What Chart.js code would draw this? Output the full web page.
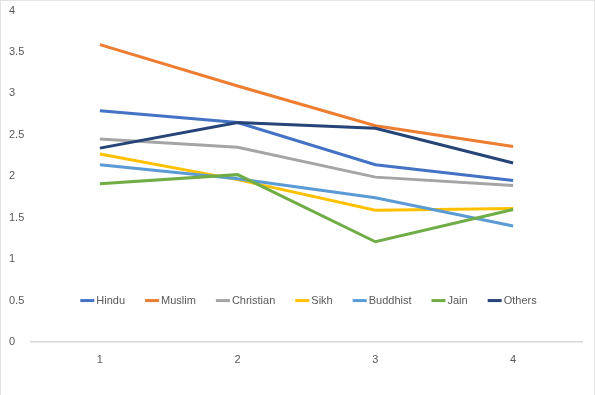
<!DOCTYPE html>
<html lang="en">
<head>
  <meta charset="UTF-8" />
  <script src="https://cdn.jsdelivr.net/npm/chart.js@4.4.0/dist/chart.umd.min.js"></script>
  <style>
    body { margin: 0; background: #fff; }
    #wrap {
      width: 595px; height: 395px; box-sizing: border-box;
      border: 1px solid #e3e3e3; border-bottom: none;
    }
  </style>
</head>
<body>
  <div id="wrap">
    <canvas id="chart" width="593" height="394"></canvas>
  </div>

  <script>
    // chart data
    let categories = ['1', '2', '3', '4'];
    let seriesNames = ['Hindu', 'Muslim', 'Christian', 'Sikh', 'Buddhist', 'Jain', 'Others'];
    let hindu = [2.79, 2.65, 2.14, 1.95];
    let muslim = [3.59, 3.09, 2.61, 2.36];
    let christian = [2.45, 2.35, 1.99, 1.89];
    let sikh = [2.27, 1.96, 1.59, 1.61];
    let buddhist = [2.14, 1.97, 1.74, 1.40];
    let jain = [1.91, 2.02, 1.21, 1.60];
    let others = [2.34, 2.65, 2.58, 2.16];
    let colors = ['#4472C4', '#ED7D31', '#A5A5A5', '#FFC000', '#5B9BD5', '#70AD47', '#264478'];

    let allValues = [hindu, muslim, christian, sikh, buddhist, jain, others];
    let textColor = '#595959';
    let font = { family: 'Liberation Sans', size: 11 };

    let datasets = [];
    for (let i = 0; i < seriesNames.length; i++) {
      datasets.push({
        label: seriesNames[i],
        data: allValues[i],
        borderColor: colors[i],
        backgroundColor: colors[i],
        borderWidth: 3,
        pointRadius: 0,
        tension: 0,
        order: seriesNames.length - i   // last series on top, like Excel
      });
    }

    // legend drawn inside the plot area, at the 0.5 level
    const insideLegend = {
      id: 'insideLegend',
      afterDatasetsDraw(chart) {
        const ctx = chart.ctx;
        const area = chart.chartArea;
        const y = chart.scales.y.getPixelForValue(0.5);
        const lineLen = 14, gap = 2, spacing = 20;
        ctx.save();
        ctx.font = font.size + 'px ' + font.family;
        let widths = seriesNames.map(n => ctx.measureText(n).width);
        let total = 0;
        for (let i = 0; i < widths.length; i++) {
          total += lineLen + gap + widths[i];
          if (i < widths.length - 1) total += spacing;
        }
        let x = (area.left + area.right) / 2 + 2 - total / 2;
        ctx.textBaseline = 'middle';
        ctx.textAlign = 'left';
        for (let i = 0; i < seriesNames.length; i++) {
          ctx.strokeStyle = colors[i];
          ctx.lineWidth = 3;
          ctx.beginPath();
          ctx.moveTo(x, y);
          ctx.lineTo(x + lineLen, y);
          ctx.stroke();
          ctx.fillStyle = textColor;
          ctx.fillText(seriesNames[i], x + lineLen + gap, y);
          x += lineLen + gap + widths[i] + spacing;
        }
        ctx.restore();
      }
    };

    var ctx = document.getElementById('chart').getContext('2d');
    var chart = new Chart(ctx, {
      type: 'line',
      data: {
        labels: categories,
        datasets: datasets
      },
      plugins: [insideLegend],
      options: {
        responsive: false,
        animation: false,
        layout: { padding: { left: 8, top: 3, right: 12, bottom: 0 } },
        plugins: {
          legend: { display: false },
          tooltip: { enabled: false }
        },
        scales: {
          x: {
            offset: true,
            grid: { display: false },
            border: { display: true, color: '#d9d9d9', width: 1.5 },
            ticks: { color: textColor, font: font, padding: 3 },
            afterFit(scale) { scale.height = 53; }
          },
          y: {
            min: 0,
            max: 4,
            grid: { display: false },
            border: { display: false },
            ticks: {
              stepSize: 0.5, color: textColor, font: font, crossAlign: 'far',
              callback: (v) => String(Number(v))
            },
            afterFit(scale) { scale.width = 22; }
          }
        }
      }
    });
  </script>
</body>
</html>
